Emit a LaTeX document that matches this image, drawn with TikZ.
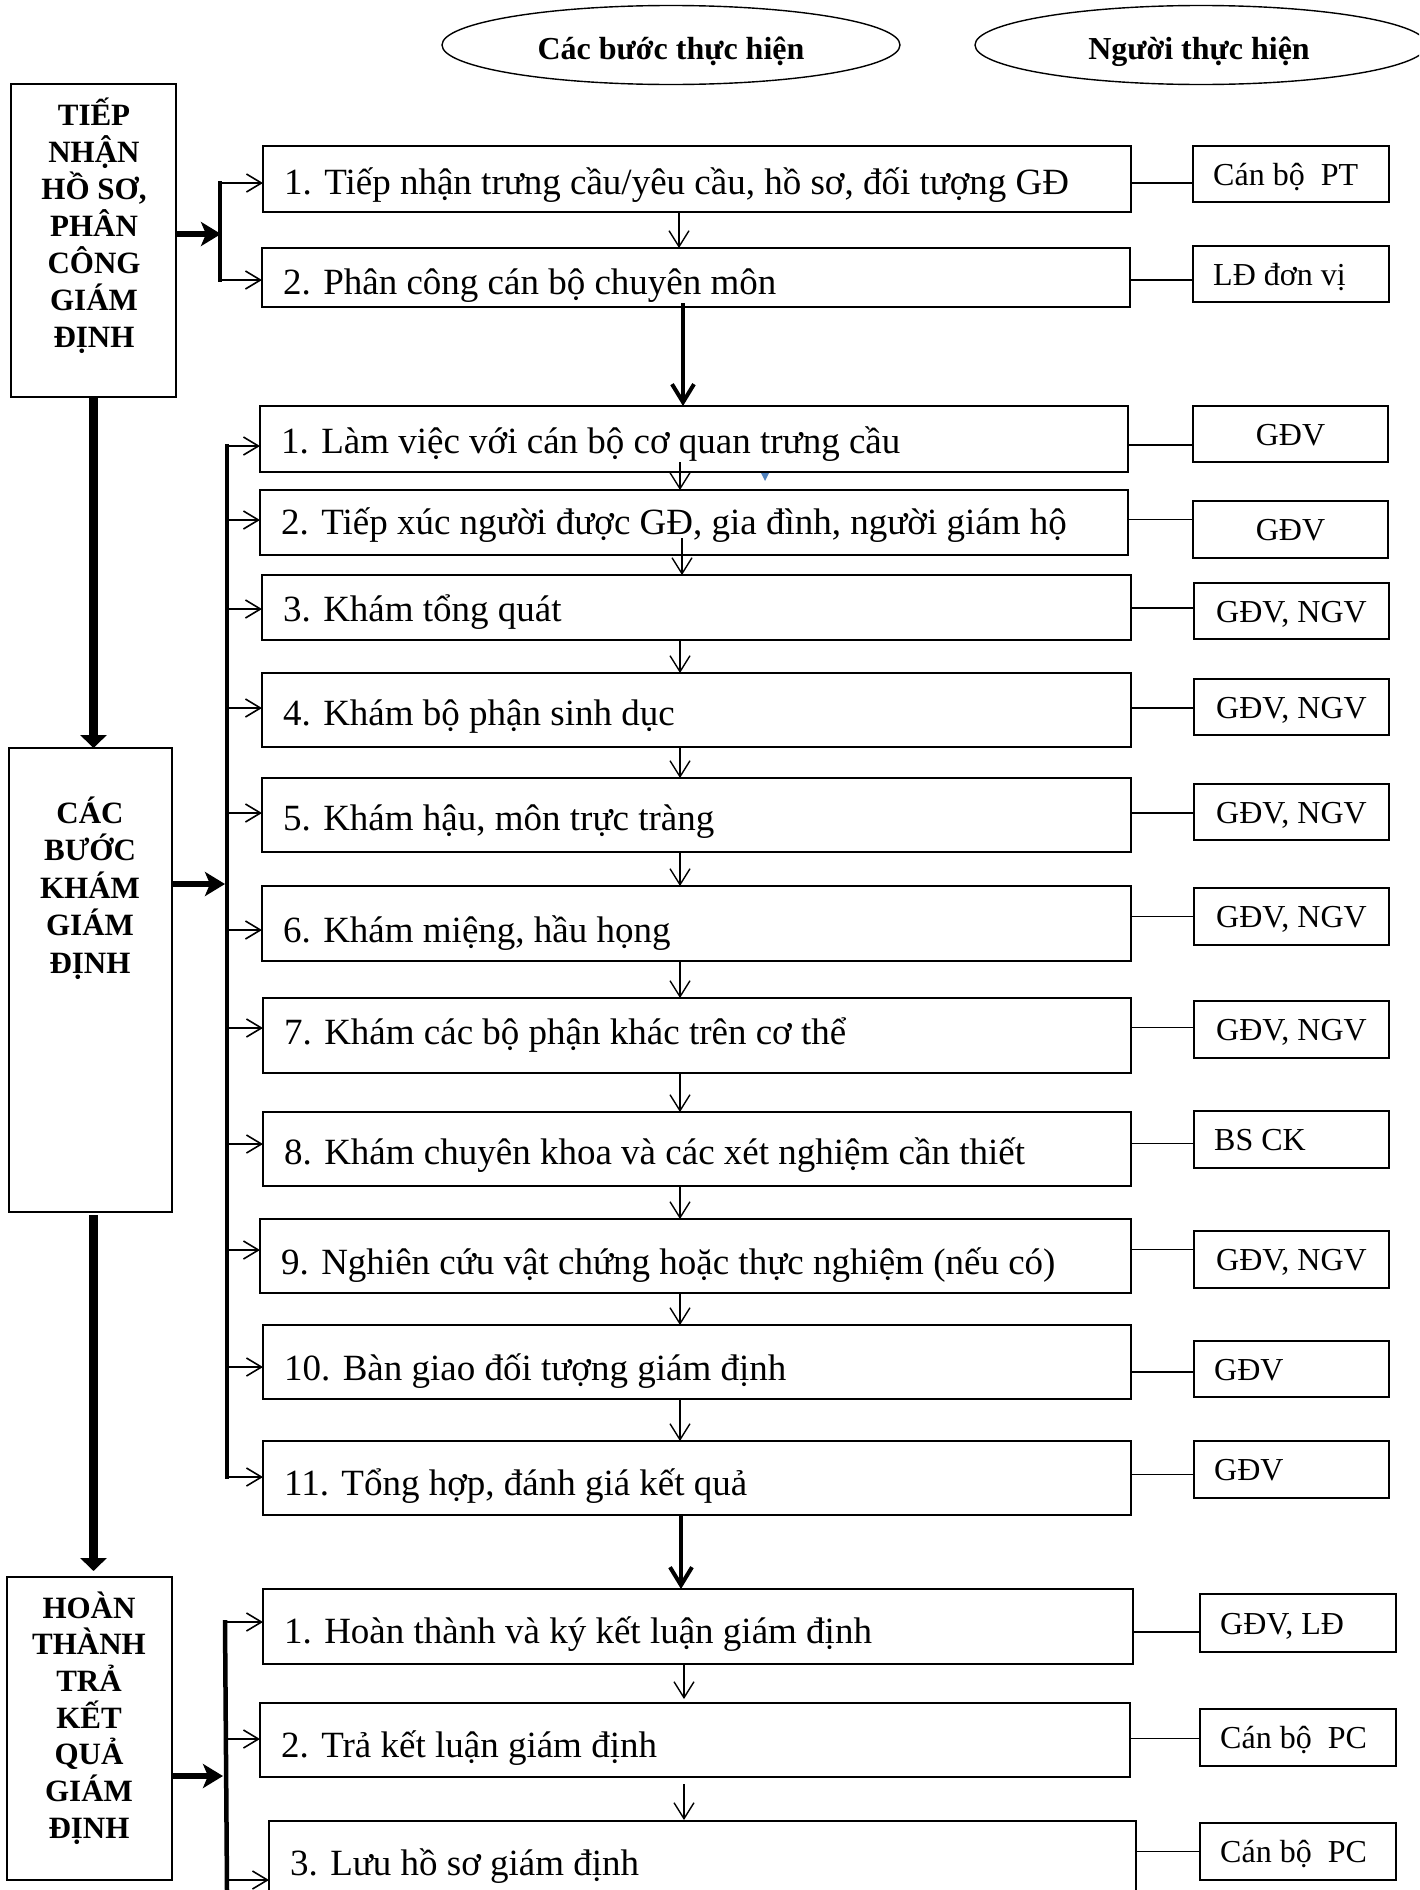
\documentclass[tikz,border=0pt]{standalone}
\usepackage{fontspec}
\setmainfont{Liberation Serif}
\usetikzlibrary{arrows.meta,shapes.geometric,calc}
\definecolor{wblue}{HTML}{4F81BD}
\newcommand\bx[6]{\node[#1, minimum width={(#5)-(#3)}, minimum height={(#6)-(#4)}] (#2) at (#3,#4) {};}
\newcommand\mt[3]{\node[mtext] (#1t) at ($(#1.west)+(21,#2)$) {#3};}
\newcommand\pl[2]{\node[ptext, anchor=base west] (#1t) at ($(#1.west)+(20,11)$) {#2};}
\newcommand\pc[2]{\node[ptext, anchor=base] (#1t) at ($(#1.center)+(0,11)$) {#2};}
\newcommand\cn[3]{\coordinate (#1c) at ($(#1.west)+(0,#3)$); \draw[conn] (#1c -| #2.east) -- (#1c);}
\begin{document}
\begin{tikzpicture}[x=1pt,y=-1pt,
  mbox/.style={draw, line width=1.8pt, inner sep=0pt, outer sep=0pt, anchor=north west},
  pbox/.style={draw, line width=1.3pt, inner sep=0pt, outer sep=0pt, anchor=north west},
  sbox/.style={draw, line width=1.7pt, inner sep=0pt, outer sep=0pt, anchor=north west},
  mtext/.style={anchor=base west, inner sep=0pt, font=\fontsize{37}{44}\selectfont},
  ptext/.style={inner sep=0pt, font=\fontsize{32}{38}\selectfont},
  stext/.style={anchor=base, inner sep=0pt, font=\fontsize{31}{37}\selectfont\bfseries},
  etext/.style={anchor=base, inner sep=0pt, font=\fontsize{32}{38}\selectfont\bfseries},
  ell/.style={draw, ellipse, line width=1.4pt, inner sep=0pt, minimum height=79pt},
  thin/.style={line width=1.4pt, -{Straight Barb[length=16pt,width=20pt]}},
  thinr/.style={line width=1.6pt, -{Straight Barb[length=15pt,width=18pt]}},
  conn/.style={line width=1.6pt},
  bracket/.style={line width=4.5pt},
  thickright/.style={line width=6pt, -{Stealth[length=20pt,width=24pt,inset=5pt]}},
  thickdown/.style={line width=9pt, -{Triangle[length=13pt,width=26pt]}},
  thickmid/.style={line width=4pt, -{Straight Barb[length=18pt,width=22pt]}}
]
\useasboundingbox (0,0) rectangle (1419,1890);
\fill[white] (0,0) rectangle (1419,1890);
\clip (0,0) rectangle (1419,1890);

% header ellipses
\node[ell, minimum width=458pt] (e1) at (671,45) {};
\node[etext] (e1t) at (671,59) {Các bước thực hiện};
\node[ell, minimum width=452pt] (e2) at (1201,45) {};
\node[etext] (e2t) at (1199,59) {Người thực hiện};

% left stage boxes
\bx{sbox}{L1}{11}{84}{176}{397}
\bx{sbox}{L2}{9}{748}{172}{1212}
\bx{sbox}{L3}{7}{1577}{172}{1880}
\foreach \w [count=\k from 0] in {TIẾP,NHẬN,{HỒ SƠ,},PHÂN,CÔNG,GIÁM,ĐỊNH}
  \node[stext] (L1t\k) at (94,125+37*\k) {\w};
\foreach \w [count=\k from 0] in {CÁC,BƯỚC,KHÁM,GIÁM,ĐỊNH}
  \node[stext] (L2t\k) at (90,823+37.5*\k) {\w};
\foreach \w [count=\k from 0] in {HOÀN,THÀNH,TRẢ,KẾT,QUẢ,GIÁM,ĐỊNH}
  \node[stext] (L3t\k) at (89,1618+36.7*\k) {\w};

% main step boxes
\bx{mbox}{s1a}{263}{146}{1131}{212}
\bx{mbox}{s1b}{262}{248}{1130}{307}
\bx{mbox}{s2a}{260}{406}{1128}{472}
\bx{mbox}{s2b}{260}{490}{1128}{555}
\bx{mbox}{s2c}{262}{575}{1131}{640}
\bx{mbox}{s2d}{262}{673}{1131}{747}
\bx{mbox}{s2e}{262}{778}{1131}{852}
\bx{mbox}{s2f}{262}{886}{1131}{961}
\bx{mbox}{s2g}{263}{998}{1131}{1073}
\bx{mbox}{s2h}{263}{1112}{1131}{1186}
\bx{mbox}{s2i}{260}{1219}{1131}{1293}
\bx{mbox}{s2j}{263}{1325}{1131}{1399}
\bx{mbox}{s2k}{263}{1441}{1131}{1515}
\bx{mbox}{s3a}{263}{1589}{1133}{1664}
\bx{mbox}{s3b}{260}{1703}{1130}{1777}
\bx{mbox}{s3c}{269}{1821}{1136}{1905}

\mt{s1a}{15}{1. Tiếp nhận trưng cầu/yêu cầu, hồ sơ, đối tượng GĐ}
\mt{s1b}{17}{2. Phân công cán bộ chuyên môn}
\mt{s2a}{14}{1. Làm việc với cán bộ cơ quan trưng cầu}
\mt{s2b}{12}{2. Tiếp xúc người được GĐ, gia đình, người giám hộ}
\mt{s2c}{14}{3. Khám tổng quát}
\mt{s2d}{15}{4. Khám bộ phận sinh dục}
\mt{s2e}{15}{5. Khám hậu, môn trực tràng}
\mt{s2f}{19}{6. Khám miệng, hầu họng}
\mt{s2g}{9}{7. Khám các bộ phận khác trên cơ thể}
\mt{s2h}{15}{8. Khám chuyên khoa và các xét nghiệm cần thiết}
\mt{s2i}{18}{9. Nghiên cứu vật chứng hoặc thực nghiệm (nếu có)}
\mt{s2j}{18}{10. Bàn giao đối tượng giám định}
\mt{s2k}{17}{11. Tổng hợp, đánh giá kết quả}
\mt{s3a}{17}{1. Hoàn thành và ký kết luận giám định}
\mt{s3b}{17}{2. Trả kết luận giám định}
\mt{s3c}{12}{3. Lưu hồ sơ giám định}

% performer boxes
\bx{pbox}{p1a}{1193}{146}{1389}{202}
\bx{pbox}{p1b}{1193}{246}{1389}{302}
\bx{pbox}{p2a}{1193}{406}{1388}{462}
\bx{pbox}{p2b}{1193}{501}{1388}{558}
\bx{pbox}{p2c}{1194}{583}{1389}{639}
\bx{pbox}{p2d}{1194}{679}{1389}{735}
\bx{pbox}{p2e}{1194}{784}{1389}{840}
\bx{pbox}{p2f}{1194}{888}{1389}{945}
\bx{pbox}{p2g}{1194}{1001}{1389}{1058}
\bx{pbox}{p2h}{1194}{1111}{1389}{1168}
\bx{pbox}{p2i}{1194}{1231}{1389}{1288}
\bx{pbox}{p2j}{1194}{1341}{1389}{1397}
\bx{pbox}{p2k}{1194}{1441}{1389}{1498}
\bx{pbox}{p3a}{1200}{1594}{1396}{1652}
\bx{pbox}{p3b}{1200}{1709}{1396}{1766}
\bx{pbox}{p3c}{1200}{1823}{1396}{1880}

\pl{p1a}{Cán bộ\ \ PT}
\pl{p1b}{LĐ đơn vị}
\pc{p2a}{GĐV}
\pc{p2b}{GĐV}
\pc{p2c}{GĐV, NGV}
\pc{p2d}{GĐV, NGV}
\pc{p2e}{GĐV, NGV}
\pc{p2f}{GĐV, NGV}
\pc{p2g}{GĐV, NGV}
\pl{p2h}{BS CK}
\pc{p2i}{GĐV, NGV}
\pl{p2j}{GĐV}
\pl{p2k}{GĐV}
\pl{p3a}{GĐV, LĐ}
\pl{p3b}{Cán bộ\ \ PC}
\pl{p3c}{Cán bộ\ \ PC}

% connectors to performers
\cn{p1a}{s1a}{9}
\cn{p1b}{s1b}{6}
\cn{p2a}{s2a}{11}
\cn{p2b}{s2b}{-10}
\cn{p2c}{s2c}{-3}
\cn{p2d}{s2d}{1}
\cn{p2e}{s2e}{1}
\cn{p2f}{s2f}{0}
\cn{p2g}{s2g}{-2}
\cn{p2h}{s2h}{4}
\cn{p2i}{s2i}{-10}
\cn{p2j}{s2j}{3}
\cn{p2k}{s2k}{5}
\cn{p3a}{s3a}{9}
\cn{p3b}{s3b}{1}
\cn{p3c}{s3c}{0}

% thin vertical arrows between steps
\coordinate (ax1) at (679,0);
\coordinate (ax2) at (680,0);
\coordinate (ax3) at (684,0);
\draw[thin] (s1a.south -| ax1) -- (s1b.north -| ax1);
\draw[thin] ($(s2a.south -| ax2)+(0,-10)$) -- (s2b.north -| ax2);
\draw[thin] ($(s2b.south -| ax2)+(2,-17)$) -- ($(s2c.north -| ax2)+(2,0)$);
\foreach \u/\v in {s2c/s2d,s2d/s2e,s2e/s2f,s2f/s2g,s2g/s2h,s2h/s2i,s2i/s2j,s2j/s2k}
  \draw[thin] (\u.south -| ax2) -- (\v.north -| ax2);
\draw[thin] ($(s3a.south -| ax3)+(0,-1)$) -- ($(s3b.north -| ax3)+(0,-4)$);
\draw[thin] ($(s3b.south -| ax3)+(0,7)$) -- ($(s3c.north -| ax3)+(0,-1)$);

% thick arrows between sections
\coordinate (ax4) at (683,0);
\coordinate (ax5) at (681,0);
\draw[thickmid] ($(s1b.south -| ax4)+(0,-4)$) -- (s2a.north -| ax4);
\draw[thickmid] (s2k.south -| ax5) -- (s3a.north -| ax5);

% left stage arrows
\draw[thickdown] (L1.south) -- (L1.south |- L2.north);
\draw[thickdown] ($(L2.south)+(3,3)$) -- ($(L2.south |- L3.north)+(3,-6)$);

% section 1 bracket
\coordinate (b1t) at (220,183);
\coordinate (b1b) at (220,280);
\coordinate (j1) at (221,234);
\draw[bracket] ($(b1t)+(0,-2)$) -- ($(b1b)+(0,2)$);
\draw[thinr] (b1t) -- (b1t -| s1a.west);
\draw[thinr] (b1b) -- (b1b -| s1b.west);
\draw[thickright] (L1.east |- j1) -- (j1);

% section 2 bracket
\coordinate (b2t) at (227,444);
\coordinate (b2b) at (227,1479);
\draw[bracket] (b2t) -- (b2b);
\foreach \n/\yy in {s2a/446,s2b/520,s2c/609,s2d/708,s2e/813,s2f/930,s2g/1028,s2h/1144,s2i/1250,s2j/1367,s2k/1477}{
  \coordinate (a\n) at (227,\yy);
  \draw[thinr] (a\n) -- (a\n -| \n.west);
}
\coordinate (j2) at (225,884);
\draw[thickright] (L2.east |- j2) -- (j2);

% section 3 bracket
\coordinate (b3t) at (225,1620);
\coordinate (b3b) at (227,1890);
\draw[bracket] (b3t) -- (b3b);
\foreach \n/\yy in {s3a/1622,s3b/1739,s3c/1880}{
  \coordinate (a\n) at (226,\yy);
  \draw[thinr] (a\n) -- (a\n -| \n.west);
}
\coordinate (j3) at (223,1776);
\draw[thickright] (L3.east |- j3) -- (j3);

% small blue marker
\fill[wblue] (761,473) -- (769,473) -- (765,481) -- cycle;
\end{tikzpicture}
\end{document}
